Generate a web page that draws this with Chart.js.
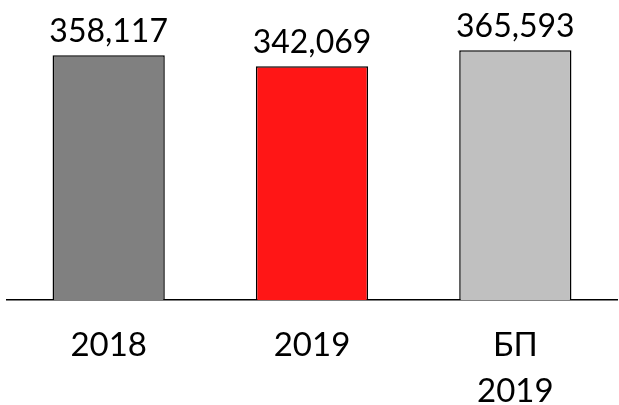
<!DOCTYPE html>
<html>
<head>
<meta charset="utf-8">
<script src="https://cdn.jsdelivr.net/npm/chart.js@4"></script>
<style>
  html, body { margin: 0; padding: 0; background: #fff; }
  #wrap { width: 619px; height: 405px; }
</style>
</head>
<body>
<div id="wrap"><canvas id="chart" width="619" height="405"></canvas></div>
<script>
// data
const categories = ['2018', '2019', ['БП', '2019']];
const values = [358117, 342069, 365593];
const barColors = ['#808080', '#ff1616', '#c0c0c0'];

const fontFamily = 'Lato, "Open Sans", sans-serif';

// value labels above the bars
const valueLabels = {
  id: 'valueLabels',
  afterDatasetsDraw(chart) {
    const ctx = chart.ctx;
    const meta = chart.getDatasetMeta(0);
    ctx.save();
    ctx.font = '32px ' + fontFamily;
    ctx.fillStyle = '#000';
    ctx.textAlign = 'center';
    ctx.textBaseline = 'alphabetic';
    meta.data.forEach((bar, i) => {
      ctx.fillText(values[i].toLocaleString('en-US'), bar.x, bar.y - 13);
    });
    ctx.restore();
  }
};

new Chart(document.getElementById('chart'), {
  type: 'bar',
  data: {
    labels: categories,
    datasets: [{
      data: values,
      backgroundColor: barColors,
      borderColor: '#000',
      borderWidth: 1.5,
      categoryPercentage: 1,
      barPercentage: 0.552
    }]
  },
  options: {
    responsive: false,
    animation: false,
    layout: { padding: { left: 7, right: 2, top: 0, bottom: 0 } },
    plugins: {
      legend: { display: false },
      tooltip: { enabled: false }
    },
    scales: {
      x: {
        grid: { display: false, drawTicks: false },
        border: { display: true, color: '#000', width: 1.5 },
        ticks: {
          color: '#000',
          font: { family: fontFamily, size: 33, lineHeight: '46px' },
          padding: 22,
          maxRotation: 0
        },
        afterFit(scale) { scale.height = 105; }
      },
      y: {
        display: false,
        min: 0,
        max: 439000
      }
    }
  },
  plugins: [valueLabels]
});
</script>
</body>
</html>
